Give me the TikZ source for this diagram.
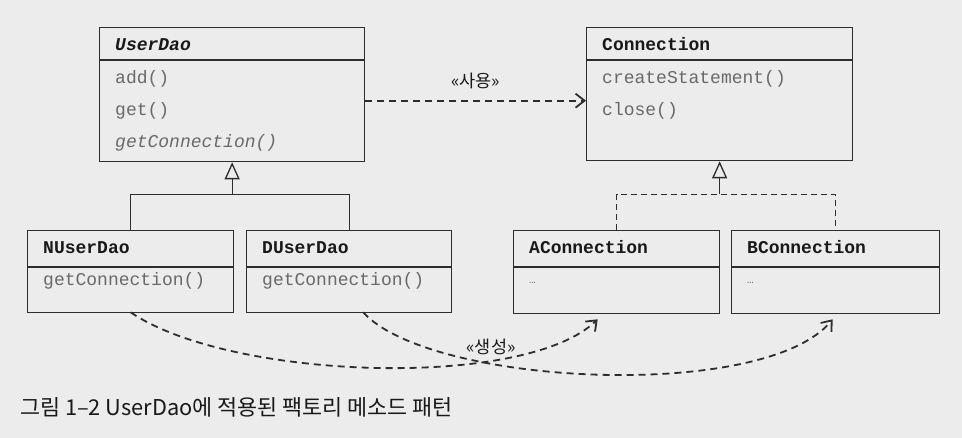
\documentclass[tikz,border=0pt]{standalone}
\usepackage{fontspec}
\setmonofont{Liberation Mono}
\newfontfamily\krfont{Noto Sans CJK KR}
\usetikzlibrary{arrows.meta}
\definecolor{bg}{RGB}{236,236,236}
\definecolor{ln}{RGB}{45,45,45}
\definecolor{mt}{RGB}{105,105,105}
\definecolor{tt}{RGB}{25,25,25}
\begin{document}
\begin{tikzpicture}[x=1pt,y=-1pt,
  cls/.style={draw=ln, line width=1.3pt, inner sep=0pt, anchor=north west},
  sepline/.style={draw=ln, line width=1.3pt},
  ttl/.style={anchor=base west, inner sep=0pt, text=tt, font=\ttfamily\bfseries\fontsize{18}{20}\selectfont},
  mth/.style={anchor=base west, inner sep=0pt, text=mt, font=\ttfamily\fontsize{18}{20}\selectfont},
  gen/.style={draw=ln, line width=1.3pt, -{Triangle[open, length=17pt, width=15pt]}},
  genline/.style={draw=ln, line width=1.3pt},
  realline/.style={draw=ln, line width=1.3pt, dash pattern=on 6pt off 4pt},
  dep/.style={draw=ln, line width=1.8pt, dash pattern=on 7pt off 5pt, -{Straight Barb[length=9pt, width=14pt, line width=1.8pt]}},
  lbl/.style={inner sep=0pt, text=tt, font=\krfont\fontsize{17.5}{19}\selectfont}
]
\fill[bg] (0,0) rectangle (962,438);
\useasboundingbox (0,0) rectangle (962,438);

% UserDao
\node[cls, minimum width=265pt, minimum height=134pt] (ud) at (99,27) {};
\draw[sepline] ([yshift=-33pt]ud.north west) -- ([yshift=-33pt]ud.north east);
\node[ttl] (udt) at ([xshift=16pt,yshift=-24pt]ud.north west) {\textit{UserDao}};
\node[mth] (uda) at ([xshift=16pt,yshift=-57pt]ud.north west) {add()};
\node[mth] (udg) at ([xshift=16pt,yshift=-89pt]ud.north west) {get()};
\node[mth] (udc) at ([xshift=16pt,yshift=-121pt]ud.north west) {\textit{getConnection()}};

% Connection
\node[cls, minimum width=266pt, minimum height=133pt] (cn) at (586,27) {};
\draw[sepline] ([yshift=-33pt]cn.north west) -- ([yshift=-33pt]cn.north east);
\node[ttl] (cnt) at ([xshift=16pt,yshift=-24pt]cn.north west) {Connection};
\node[mth] (cns) at ([xshift=16pt,yshift=-57pt]cn.north west) {createStatement()};
\node[mth] (cnc) at ([xshift=16pt,yshift=-89pt]cn.north west) {close()};

% NUserDao
\node[cls, minimum width=206pt, minimum height=82pt] (nud) at (27,230) {};
\draw[sepline] ([yshift=-37pt]nud.north west) -- ([yshift=-37pt]nud.north east);
\node[ttl] (nudt) at ([xshift=16pt,yshift=-24pt]nud.north west) {NUserDao};
\node[mth] (nudm) at ([xshift=16pt,yshift=-56pt]nud.north west) {getConnection()};

% DUserDao
\node[cls, minimum width=205pt, minimum height=82pt] (dud) at (246,230) {};
\draw[sepline] ([yshift=-37pt]dud.north west) -- ([yshift=-37pt]dud.north east);
\node[ttl] (dudt) at ([xshift=16pt,yshift=-24pt]dud.north west) {DUserDao};
\node[mth] (dudm) at ([xshift=16pt,yshift=-56pt]dud.north west) {getConnection()};

% AConnection
\node[cls, minimum width=206pt, minimum height=83pt] (ac) at (513,230) {};
\draw[sepline] ([yshift=-37pt]ac.north west) -- ([yshift=-37pt]ac.north east);
\node[ttl] (act) at ([xshift=16pt,yshift=-24pt]ac.north west) {AConnection};
\node[mth, font=\ttfamily\fontsize{11}{13}\selectfont] (acm) at ([xshift=16pt,yshift=-54pt]ac.north west) {…};

% BConnection
\node[cls, minimum width=208pt, minimum height=83pt] (bc) at (731,230) {};
\draw[sepline] ([yshift=-37pt]bc.north west) -- ([yshift=-37pt]bc.north east);
\node[ttl] (bct) at ([xshift=16pt,yshift=-24pt]bc.north west) {BConnection};
\node[mth, font=\ttfamily\fontsize{11}{13}\selectfont] (bcm) at ([xshift=16pt,yshift=-54pt]bc.north west) {…};

% generalization UserDao
\coordinate (g1) at ([yshift=-32pt]ud.south);
\draw[genline] (nud.north) |- (g1) -| (dud.north);
\draw[gen] (g1) -- (ud.south);

% realization Connection
\coordinate (g2) at ([yshift=-33pt]cn.south);
\draw[realline] (ac.north) |- (g2) -| (bc.north);
\draw[gen] (g2) -- (cn.south);

% uses
\draw[dep] ([yshift=-6pt]ud.east) -- ([yshift=-6.5pt]cn.west)
  node[lbl, midway, above=11pt] (use) {«사용»};

% creates
\coordinate (nsrc) at ([yshift=1pt]nud.south);
\coordinate (dsrc) at ([xshift=14pt,yshift=1pt]dud.south);
\coordinate (atgt) at ([xshift=-19pt,yshift=-5pt]ac.south);
\coordinate (btgt) at ([xshift=-3pt,yshift=-5pt]bc.south);
\draw[dep] (nsrc) .. controls (230,380) and (525,390) .. (atgt);
\draw[dep] (dsrc) .. controls (430,386) and (765,402) .. (btgt);
\node[lbl] (make) at (491,347) {«생성»};

% caption
\node[anchor=base west, inner sep=0pt, text=tt, font=\krfont\fontsize{21.8}{24}\selectfont] (cap) at (20,416) {그림 1–2 UserDao에 적용된 팩토리 메소드 패턴};
\end{tikzpicture}
\end{document}
